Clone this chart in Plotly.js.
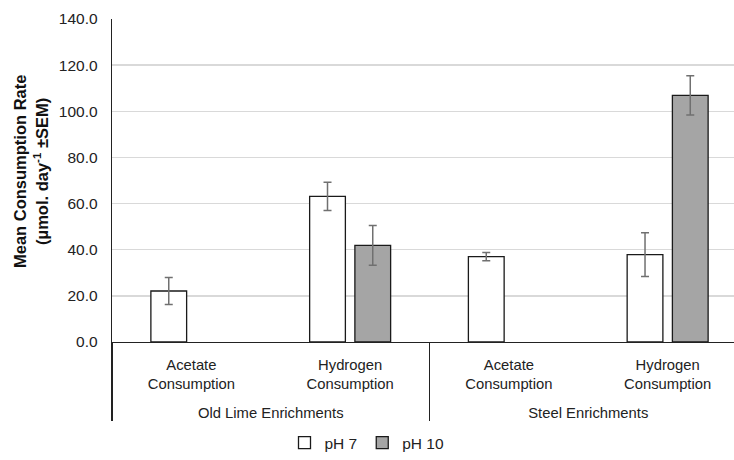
<!DOCTYPE html>
<html>
<head>
<meta charset="utf-8">
<script src="https://cdn.plot.ly/plotly-3.0.1.min.js"></script>
<style>html,body{margin:0;padding:0;background:#fff;overflow:hidden}#chart{width:734px;height:460px}</style>
</head>
<body>
<div id="chart"></div>
<script>
var groups = ["<br>Old Lime Enrichments", "<br>Old Lime Enrichments", "<br>Steel Enrichments", "<br>Steel Enrichments"];
var categories = ["Acetate<br>Consumption", "Hydrogen<br>Consumption", "Acetate<br>Consumption", "Hydrogen<br>Consumption"];
var ph7Values = [22.1, 63.1, 37.0, 37.9];
var ph7Errors = [5.9, 6.1, 1.8, 9.5];
var ph10Values = [null, 41.9, null, 106.9];
var ph10Errors = [null, 8.6, null, 8.5];
var yTickVals = [0, 20, 40, 60, 80, 100, 120, 140];

var font = "Liberation Sans, Arial, sans-serif";
var errStyle = {type: "data", visible: true, color: "#707070", thickness: 1.5, width: 4};
var pad = "\u00a0\u00a0\u00a0\u00a0";

var traces = [
  {type: "bar", name: "pH 7", x: [groups, categories], y: ph7Values,
   marker: {color: "#ffffff", line: {color: "#1a1a1a", width: 1.3}},
   error_y: Object.assign({array: ph7Errors}, errStyle)},
  {type: "bar", name: "pH 10", x: [groups, categories], y: ph10Values,
   marker: {color: "#a5a5a5", line: {color: "#1a1a1a", width: 1.3}},
   error_y: Object.assign({array: ph10Errors}, errStyle)}
];

var layout = {
  width: 734, height: 460,
  margin: {l: 112, r: 0, t: 19, b: 118},
  paper_bgcolor: "#fff", plot_bgcolor: "#fff",
  font: {family: font, color: "#222", size: 15},
  barmode: "group", bargap: 0.43, bargroupgap: 0.21,
  showlegend: true,
  legend: {orientation: "h", x: 0.5, xref: "container", xanchor: "center",
           y: 0, yref: "container", yanchor: "bottom",
           font: {size: 15.5, family: font, color: "#222"}, itemwidth: 30,
           traceorder: "normal", tracegroupgap: 0},
  xaxis: {type: "multicategory", range: [-0.5, 3.418], showline: true, linecolor: "#222", linewidth: 1.3,
          showdividers: true, dividercolor: "#222", dividerwidth: 1.3, ticklabelstandoff: 9,
          tickfont: {size: 14.8, family: font, color: "#222"}, ticks: "", showgrid: false, zeroline: false},
  yaxis: {range: [0, 140], tickvals: yTickVals, tickformat: ".1f", showgrid: true, gridcolor: "#d9d9d9", gridwidth: 1.3,
          showline: true, linecolor: "#222", linewidth: 1.3, zeroline: false, ticks: "", ticklabelstandoff: 10,
          tickfont: {size: 15.5, family: font, color: "#222"},
          title: {text: "<b>" + pad + "Mean Consumption Rate</b><br><b>" + pad + "(µmol. day<sup>-1</sup> ±SEM)</b>", font: {size: 16.5, family: font, color: "#111"}, standoff: 6}}
};

Plotly.newPlot("chart", traces, layout, {displayModeBar: false, staticPlot: true});
</script>
</body>
</html>
